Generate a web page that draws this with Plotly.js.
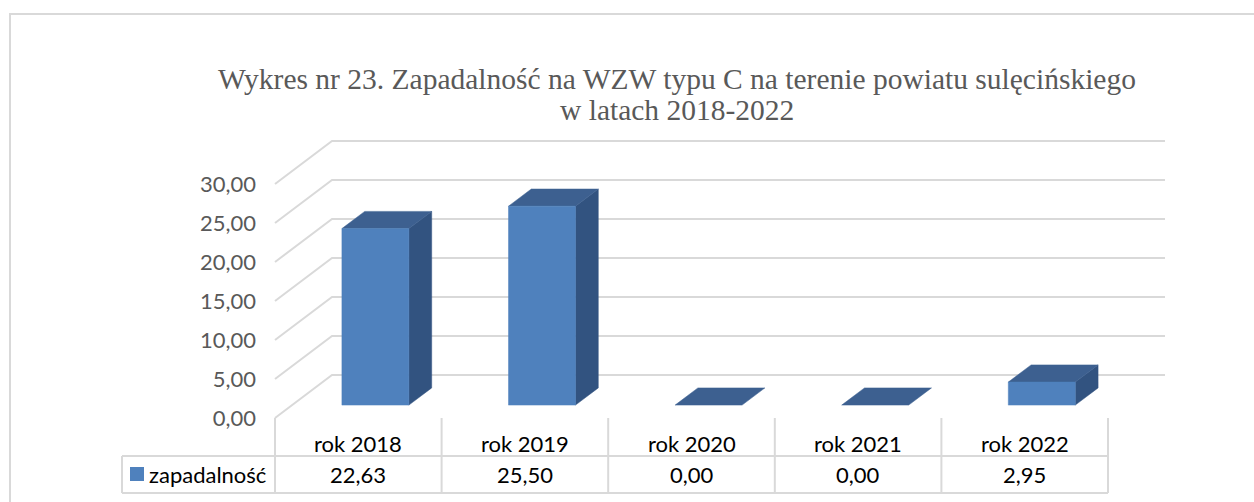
<!DOCTYPE html>
<html>
<head>
<meta charset="utf-8">
<script src="https://cdn.plot.ly/plotly-3.0.1.min.js"></script>
<style>html,body{margin:0;padding:0;background:#fff;}#chart{width:1254px;height:502px;}</style>
</head>
<body>
<div id="chart"></div>
<script>
// ---- data ----
const categories = ['rok 2018', 'rok 2019', 'rok 2020', 'rok 2021', 'rok 2022'];
const values = [22.63, 25.50, 0.00, 0.00, 2.95];
const seriesName = 'zapadalność';
const yTickVals = [0, 5, 10, 15, 20, 25, 30];
const titleLine1 = 'Wykres nr 23. Zapadalność na WZW typu C na terenie powiatu sulęcińskiego';
const titleLine2 = 'w latach 2018-2022';

// ---- geometry (pixels) ----
const W = 1254, H = 502;
const L = 262, R = 1170, T = 132, B = 422;     // plot area
const X0 = 275, CATW = 166.6;                  // front floor start, category width
const Y0 = 418, UNIT = 7.8;                    // front zero line, px per unit
const DEPTH_X = 57, DEPTH_Y = 43;              // depth projection in px
const dxU = DEPTH_X / CATW, dyU = DEPTH_Y / UNIT;
const BAR_HALF = 0.201, D_FRONT = 0.3, D_BACK = 0.7;

const FRONT = '#4F81BD', TOP = '#3D6090', SIDE = '#325380';
const GRID = '#d9d9d9';

const px = x => (x - L) / (R - L);
const py = y => (B - y) / (B - T);
const P = (cx, v, d) => [cx + d * dxU, v + d * dyU];
const fmt = v => v.toFixed(2).replace('.', ',');

const traces = [];

// gridlines: back wall + left wall diagonals
const gx = [], gy = [];
const nCat = categories.length;
yTickVals.forEach(v => {
  let a = P(0, v, 0), b = P(0, v, 1), c = P(nCat, v, 1);
  gx.push(a[0], b[0], c[0], null);
  gy.push(a[1], b[1], c[1], null);
});
traces.push({type: 'scatter', mode: 'lines', x: gx, y: gy, line: {color: GRID, width: 2},
  hoverinfo: 'skip', showlegend: false, connectgaps: false});

function poly(pts, color) {
  const xs = pts.map(p => p[0]), ys = pts.map(p => p[1]);
  xs.push(xs[0]); ys.push(ys[0]);
  traces.push({type: 'scatter', mode: 'lines', x: xs, y: ys, fill: 'toself', fillcolor: color,
    line: {color: color, width: 0.5}, hoverinfo: 'skip', showlegend: false});
}

values.forEach((v, i) => {
  const l = i + 0.5 - BAR_HALF, r = i + 0.5 + BAR_HALF;
  // side face
  if (v > 0) poly([P(r, 0, D_FRONT), P(r, 0, D_BACK), P(r, v, D_BACK), P(r, v, D_FRONT)], SIDE);
  // top face
  poly([P(l, v, D_FRONT), P(r, v, D_FRONT), P(r, v, D_BACK), P(l, v, D_BACK)], TOP);
  // front face
  if (v > 0) poly([P(l, 0, D_FRONT), P(r, 0, D_FRONT), P(r, v, D_FRONT), P(l, v, D_FRONT)], FRONT);
});

// ---- data table ----
const shapes = [];
const tableLine = {color: GRID, width: 2};
for (let i = 0; i <= nCat; i++) {
  const xpx = X0 + i * CATW;
  shapes.push({type: 'line', xref: 'paper', yref: 'paper', x0: px(xpx), x1: px(xpx), y0: py(418), y1: py(493), line: tableLine});
}
shapes.push({type: 'line', xref: 'paper', yref: 'paper', x0: px(122), x1: px(X0 + nCat * CATW), y0: py(456), y1: py(456), line: tableLine});
shapes.push({type: 'line', xref: 'paper', yref: 'paper', x0: px(122), x1: px(X0 + nCat * CATW), y0: py(493), y1: py(493), line: tableLine});
shapes.push({type: 'line', xref: 'paper', yref: 'paper', x0: px(122), x1: px(122), y0: py(456), y1: py(493), line: tableLine});
// legend key
shapes.push({type: 'rect', xref: 'paper', yref: 'paper', x0: px(130), x1: px(144), y0: py(467), y1: py(481), fillcolor: FRONT, line: {width: 0}});
// outer chart border
shapes.push({type: 'rect', xref: 'paper', yref: 'paper', x0: px(10), x1: px(W + 20), y0: py(14), y1: py(H + 20), line: {color: GRID, width: 2}});

const tableFont = {family: 'Lato, sans-serif', size: 22, color: '#000000'};
const annotations = [];
categories.forEach((c, i) => {
  annotations.push({xref: 'x', yref: 'paper', x: i + 0.5, y: py(443), text: c, showarrow: false, xanchor: 'center', yanchor: 'middle', font: tableFont});
  annotations.push({xref: 'x', yref: 'paper', x: i + 0.5, y: py(474), text: fmt(values[i]), showarrow: false, xanchor: 'center', yanchor: 'middle', font: tableFont});
});
annotations.push({xref: 'paper', yref: 'paper', x: px(147), y: py(474), text: seriesName, showarrow: false, xanchor: 'left', yanchor: 'middle', font: tableFont});

// title lines
const titleFont = {family: 'Liberation Serif, Times New Roman, serif', size: 29.5, color: '#595959'};
annotations.push({xref: 'paper', yref: 'paper', x: px(677), y: py(79), text: titleLine1, showarrow: false, xanchor: 'center', yanchor: 'middle', font: titleFont});
annotations.push({xref: 'paper', yref: 'paper', x: px(677), y: py(110), text: titleLine2, showarrow: false, xanchor: 'center', yanchor: 'middle', font: titleFont});

const layout = {
  width: W, height: H, autosize: false,
  margin: {l: L, r: W - R, t: T, b: H - B, pad: 0},
  paper_bgcolor: '#ffffff', plot_bgcolor: '#ffffff',
  separators: ', ',
  showlegend: false,
  xaxis: {range: [(L - X0) / CATW, (R - X0) / CATW], showgrid: false, zeroline: false, showline: false,
    showticklabels: false, ticks: '', fixedrange: true},
  yaxis: {range: [(Y0 - B) / UNIT, (Y0 - T) / UNIT], showgrid: false, zeroline: false, showline: false,
    tickmode: 'array', tickvals: yTickVals, ticktext: yTickVals.map(fmt), ticks: '',
    ticklabelstandoff: 5,
    tickfont: {family: 'Lato, sans-serif', size: 22, color: '#595959'}, fixedrange: true},
  shapes: shapes,
  annotations: annotations
};

Plotly.newPlot('chart', traces, layout, {displayModeBar: false, staticPlot: true});
</script>
</body>
</html>
